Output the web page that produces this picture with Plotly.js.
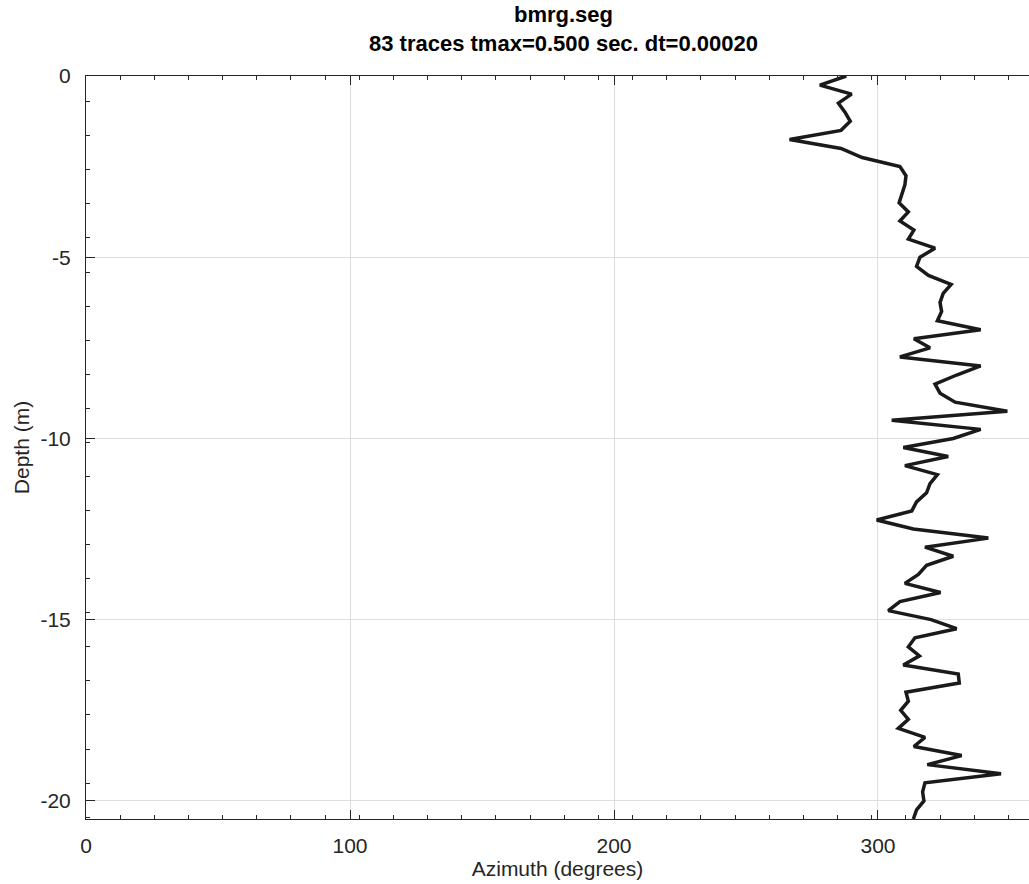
<!DOCTYPE html>
<html>
<head>
<meta charset="utf-8">
<script src="https://cdn.plot.ly/plotly-3.0.1.min.js"></script>
<style>html,body{margin:0;padding:0;background:#fff;}#chart{width:1029px;height:884px;}</style>
</head>
<body>
<div id="chart"></div>
<script>
// Depth (m) of each trace, 0 to -20.5 in 0.25 m steps (83 traces)
const depth = [
  0, -0.25, -0.5, -0.75, -1, -1.25, -1.5, -1.75, -2, -2.25,
  -2.5, -2.75, -3, -3.25, -3.5, -3.75, -4, -4.25, -4.5, -4.75,
  -5, -5.25, -5.5, -5.75, -6, -6.25, -6.5, -6.75, -7, -7.25,
  -7.5, -7.75, -8, -8.25, -8.5, -8.75, -9, -9.25, -9.5, -9.75,
  -10, -10.25, -10.5, -10.75, -11, -11.25, -11.5, -11.75, -12, -12.25,
  -12.5, -12.75, -13, -13.25, -13.5, -13.75, -14, -14.25, -14.5, -14.75,
  -15, -15.25, -15.5, -15.75, -16, -16.25, -16.5, -16.75, -17, -17.25,
  -17.5, -17.75, -18, -18.25, -18.5, -18.75, -19, -19.25, -19.5, -19.75,
  -20, -20.25, -20.5
];
// Azimuth (degrees)
const azimuth = [
  288, 278, 290, 285, 287.5, 289.5, 286, 266.5, 286, 294,
  308.3, 310.6, 310.2, 309, 308, 311.5, 308.3, 313.6, 311.5, 321.6,
  315.9, 314.6, 319.1, 327.7, 324.7, 323.5, 324.1, 322.5, 338.9, 313.6,
  319.7, 308.3, 338.9, 329.8, 321.6, 323.5, 329.2, 349, 305.2, 338.9,
  328.5, 309.6, 326.6, 310.2, 322.5, 319.7, 318.4, 314.6, 312.8, 299.5,
  313.4, 341.8, 317.8, 328.5, 318.4, 315.3, 310.2, 323.7, 308.3, 303.9,
  320.1, 329.8, 314, 311.5, 315.7, 309.6, 330.4, 330.8, 310.6, 311.5,
  308.6, 311.5, 307.7, 317.8, 313.6, 331.7, 318.7, 346.6, 317.8, 316.9,
  317.4, 314.6, 313.4
];
const titleLines = ["bmrg.seg", "83 traces tmax=0.500 sec. dt=0.00020"];
const xTickVals = [0, 100, 200, 300];
const yTickVals = [0, -5, -10, -15, -20];

const FONT = '"Liberation Sans", Arial, Helvetica, sans-serif';
const trace = {
  x: azimuth, y: depth, type: 'scatter', mode: 'lines',
  line: {color: '#1a1a1a', width: 3.5},
  hoverinfo: 'skip', showlegend: false
};
const layout = {
  width: 1029, height: 884,
  margin: {l: 86, r: 0, t: 76, b: 65, pad: 0},
  paper_bgcolor: '#ffffff', plot_bgcolor: '#ffffff',
  font: {family: FONT, size: 21, color: '#262626'},
  showlegend: false,
  xaxis: {
    range: [0, 357.2], autorange: false,
    tickvals: xTickVals, ticktext: xTickVals.map(String),
    ticks: 'inside', ticklen: 9, tickwidth: 1, tickcolor: '#262626',
    showline: true, linecolor: '#262626', linewidth: 1, mirror: 'ticks',
    showgrid: true, gridcolor: '#dedede', gridwidth: 1, zeroline: false,
    ticklabelstandoff: 8,
    minor: {ticks: 'inside', ticklen: 4, tickcolor: '#262626', tick0: 0, dtick: 12.94, showgrid: false},
    title: {text: 'Azimuth (degrees)', font: {family: FONT, size: 21, color: '#262626'}, standoff: 2}
  },
  yaxis: {
    range: [-20.5, 0], autorange: false,
    tickvals: yTickVals, ticktext: yTickVals.map(String),
    ticks: 'inside', ticklen: 9, tickwidth: 1, tickcolor: '#262626',
    showline: true, linecolor: '#262626', linewidth: 1, mirror: false,
    showgrid: true, gridcolor: '#dedede', gridwidth: 1, zeroline: false,
    ticklabelstandoff: 10,
    minor: {ticks: 'inside', ticklen: 4, tickcolor: '#262626', tick0: -0.709, dtick: 0.94, showgrid: false},
    title: {text: 'Depth (m)', font: {family: FONT, size: 21, color: '#262626'}, standoff: 5}
  },
  annotations: [
    {text: '<b>' + titleLines[0] + '</b><br><b>' + titleLines[1] + '</b>',
     xref: 'paper', yref: 'paper', x: 0.506, y: 1, yshift: 47.5,
     xanchor: 'center', yanchor: 'middle', align: 'center', showarrow: false,
     font: {family: FONT, size: 22, color: '#000'}}
  ]
};
Plotly.newPlot('chart', [trace], layout, {displayModeBar: false, staticPlot: true});
</script>
</body>
</html>
